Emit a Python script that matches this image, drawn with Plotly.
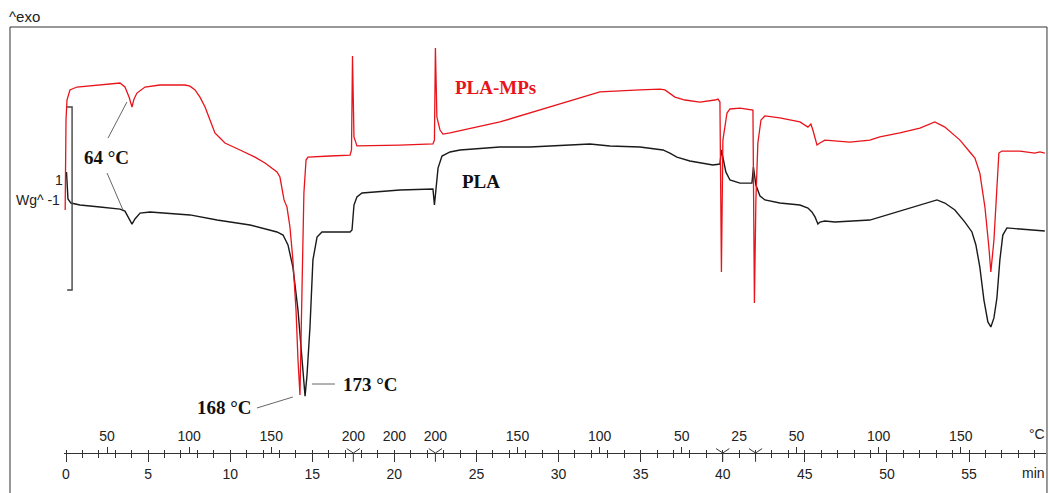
import plotly.graph_objects as go

# ---------------- data ----------------
# PLA (black) : time in min, heat flow in W/g (arbitrary offset)
time_pla = [0.03, 0.06, 0.12, 0.30, 0.85, 2.07, 3.29, 3.59, 3.84, 4.02, 4.20, 4.51, 5.12, 6.76,
            7.55, 9.20, 11.21, 12.85, 13.22, 13.52, 13.82, 14.13, 14.37, 14.52, 14.56, 14.68,
            14.86, 15.04, 15.29, 15.59, 17.30, 17.42, 17.54, 17.72, 18.03, 20.34, 22.35, 22.44,
            22.53, 22.66, 22.90, 23.39, 24.00, 26.43, 28.26, 30.69, 31.91, 33.13, 34.96, 36.36,
            36.78, 37.21, 38.00, 39.40, 39.83, 39.92, 40.01, 40.19, 40.44, 41.05, 41.78, 41.87,
            42.02, 42.27, 42.57, 43.48, 44.70, 45.19, 45.43, 45.62, 45.80, 45.92, 46.22, 46.83,
            48.96, 50.18, 51.40, 52.31, 53.05, 53.53, 54.14, 54.75, 55.18, 55.42, 55.66, 55.91,
            56.15, 56.33, 56.52, 56.70, 56.88, 57.06, 57.31, 58.10, 59.62]
hf_pla = [1.536, 1.437, 1.388, 1.366, 1.355, 1.344, 1.333, 1.322, 1.284, 1.251, 1.279, 1.311,
          1.317, 1.306, 1.301, 1.273, 1.246, 1.208, 1.191, 1.137, 1.016, 0.781, 0.508, 0.328,
          0.311, 0.426, 0.689, 1.055, 1.180, 1.208, 1.208, 1.219, 1.355, 1.399, 1.421, 1.437,
          1.443, 1.355, 1.437, 1.557, 1.623, 1.645, 1.656, 1.672, 1.672, 1.683, 1.689, 1.678,
          1.672, 1.656, 1.639, 1.617, 1.596, 1.574, 1.579, 1.656, 1.612, 1.536, 1.492, 1.475,
          1.475, 1.563, 1.464, 1.404, 1.383, 1.366, 1.355, 1.339, 1.317, 1.290, 1.251, 1.262,
          1.268, 1.262, 1.273, 1.306, 1.339, 1.366, 1.383, 1.366, 1.328, 1.262, 1.208, 1.137,
          1.016, 0.836, 0.716, 0.689, 0.738, 0.847, 1.055, 1.191, 1.230, 1.224, 1.213]

# PLA-MPs (red)
time_mps = [-0.05, -0.03, 0.00, 0.06, 0.24, 0.67, 2.07, 3.29, 3.59, 3.84, 4.02, 4.14, 4.32,
            4.81, 5.72, 7.25, 7.55, 7.86, 8.16, 8.47, 8.77, 9.07, 9.38, 9.68, 10.60, 11.51,
            12.12, 12.55, 12.85, 13.03, 13.15, 13.28, 13.46, 13.64, 13.82, 14.01, 14.13, 14.25,
            14.37, 14.49, 14.62, 14.74, 16.08, 17.30, 17.39, 17.45, 17.54, 17.72, 20.34, 22.35,
            22.44, 22.50, 22.59, 22.78, 22.96, 23.39, 26.43, 29.48, 32.22, 32.52, 34.96, 36.18,
            36.48, 37.09, 37.70, 38.61, 39.52, 39.71, 39.83, 39.92, 40.01, 40.13, 40.26, 40.44,
            41.05, 41.84, 41.93, 42.02, 42.14, 42.33, 42.57, 43.48, 44.70, 45.19, 45.37, 45.49,
            45.62, 45.74, 45.92, 46.22, 47.75, 48.96, 49.57, 50.79, 52.01, 52.92, 53.53, 54.45,
            55.05, 55.36, 55.66, 55.97, 56.21, 56.33, 56.52, 56.70, 56.82, 57.00, 58.10, 59.01,
            59.32, 59.62]
hf_mps = [1.328, 1.601, 1.820, 1.929, 1.984, 2.000, 2.011, 2.022, 2.000, 1.945, 1.891, 1.934,
          1.967, 2.000, 2.011, 2.011, 2.005, 1.984, 1.945, 1.891, 1.820, 1.749, 1.721, 1.694,
          1.656, 1.617, 1.585, 1.557, 1.536, 1.508, 1.437, 1.383, 1.344, 1.235, 1.055, 0.781,
          0.508, 0.317, 0.874, 1.421, 1.601, 1.617, 1.623, 1.628, 1.656, 2.169, 1.727, 1.678,
          1.683, 1.689, 1.710, 2.213, 1.836, 1.765, 1.743, 1.749, 1.809, 1.891, 1.967, 1.973,
          1.984, 1.989, 1.984, 1.945, 1.929, 1.918, 1.929, 1.934, 1.918, 0.989, 1.710, 1.781,
          1.858, 1.880, 1.885, 1.874, 0.820, 1.383, 1.694, 1.820, 1.842, 1.831, 1.809, 1.781,
          1.798, 1.765, 1.727, 1.683, 1.694, 1.710, 1.699, 1.710, 1.727, 1.749, 1.776, 1.809,
          1.781, 1.710, 1.645, 1.612, 1.530, 1.344, 1.126, 0.989, 1.164, 1.492, 1.639, 1.650,
          1.650, 1.639, 1.645, 1.639]

# time axis (min)
time_tick_vals = [0, 5, 10, 15, 20, 25, 30, 35, 40, 45, 50, 55]
time_tick_labels = [str(v) for v in time_tick_vals]

# temperature axis (°C) placed along the time axis
temp_label_times = [2.5, 7.5, 12.5, 17.5, 20.0, 22.5, 27.5, 32.5, 37.5, 41.0, 44.5, 49.5, 54.5]
temp_labels = ["50", "100", "150", "200", "200", "200", "150", "100", "50", "25", "50", "100", "150"]
temp_mark_times = [2.5, 7.5, 12.5, 27.5, 32.5, 37.5, 44.5, 49.5, 54.5]
segment_times = [17.5, 22.5, 40.0, 42.0]
segment_level = [0, 0, 0, 0]

# 1 W/g scale bar
scale_bar_t = [0.07, 0.37, 0.37, 0.07]
scale_bar_hf = [1.891, 1.891, 0.891, 0.891]

# annotation leader lines (time, heat flow)
leaders = [
    (2.56, 1.721, 3.71, 1.918),
    (2.50, 1.530, 3.47, 1.328),
    (14.98, 0.377, 16.38, 0.377),
    (11.63, 0.246, 13.82, 0.306),
]

X_RANGE = [-0.122, 59.69]
Y_RANGE = [0, 2.328]
AX = "#333333"
TICKFONT = dict(family="Liberation Sans, Arial", size=14, color="#222222")
SERIF = "Liberation Serif, Times New Roman"

fig = go.Figure()
fig.add_trace(go.Scatter(x=time_pla, y=hf_pla, mode="lines", name="PLA",
                         line=dict(color="#1a1a1a", width=1.4), hoverinfo="skip"))
fig.add_trace(go.Scatter(x=time_mps, y=hf_mps, mode="lines", name="PLA-MPs",
                         line=dict(color="#e8141b", width=1.3), hoverinfo="skip"))
fig.add_trace(go.Scatter(x=scale_bar_t, y=scale_bar_hf, mode="lines", xaxis="x3",
                         line=dict(color="#444444", width=1.4), hoverinfo="skip"))
fig.add_trace(go.Scatter(x=segment_times, y=segment_level, mode="markers", xaxis="x2",
                         cliponaxis=False, hoverinfo="skip",
                         marker=dict(symbol="y-down", size=11, color=AX,
                                     line=dict(width=1, color=AX))))

for (x0, y0, x1, y1) in leaders:
    fig.add_shape(type="line", xref="x", yref="y", x0=x0, y0=y0, x1=x1, y1=y1,
                  line=dict(color="#555555", width=0.9))

# outer frame
fig.add_shape(type="rect", xref="paper", yref="paper", x0=-0.055, x1=1.001, y0=-0.11, y1=1.0,
              line=dict(color=AX, width=1))

ann = []
def txt(x, y, s, size=19, color="#111111", xref="x", yref="y", xanchor="center",
        family=SERIF):
    ann.append(dict(x=x, y=y, xref=xref, yref=yref, text=s, showarrow=False,
                    xanchor=xanchor, yanchor="middle",
                    font=dict(family=family, size=size, color=color)))

txt(26.13, 2.000, "<b>PLA-MPs</b>", color="#e8141b")
txt(25.27, 1.481, "<b>PLA</b>")
txt(2.44, 1.617, "<b>64 °C</b>")
txt(18.57, 0.372, "<b>173 °C</b>")
txt(9.68, 0.246, "<b>168 °C</b>")
sans = "Liberation Sans, Arial"
txt(-0.005, 0.641, "1", size=14, color="#222222", xref="paper", yref="paper", family=sans)
txt(-0.002, 0.594, "Wg^ -1", size=14, color="#222222", xref="paper", yref="paper",
    xanchor="right", family=sans)
txt(-0.058, 1.025, "^exo", size=15, color="#222222", xref="paper", yref="paper",
    xanchor="left", family=sans)
txt(0.991, 0.045, "°C", size=14, color="#222222", xref="paper", yref="paper", family=sans)
txt(0.987, -0.047, "min", size=14, color="#222222", xref="paper", yref="paper", family=sans)

fig.update_layout(
    width=1049, height=493,
    margin=dict(l=64, r=3, t=27, b=40),
    paper_bgcolor="white", plot_bgcolor="white",
    showlegend=False,
    annotations=ann,
    xaxis=dict(range=X_RANGE, showgrid=False, zeroline=False, automargin=False,
               showline=True, linecolor=AX, linewidth=1,
               tickmode="array", tickvals=time_tick_vals, ticktext=time_tick_labels,
               ticks="outside", ticklen=8, tickcolor=AX, tickwidth=1, tickfont=TICKFONT,
               minor=dict(tickmode="linear", tick0=0, dtick=1, ticks="outside", ticklen=4,
                          tickcolor=AX, tickwidth=1, showgrid=False)),
    xaxis2=dict(range=X_RANGE, overlaying="x", side="top", anchor="free", position=0,
                showgrid=False, zeroline=False, showline=False, automargin=False,
                tickmode="array", tickvals=temp_mark_times, showticklabels=False,
                ticks="outside", ticklen=6, tickcolor=AX, tickwidth=1,
                minor=dict(tickmode="linear", tick0=0, dtick=1, ticks="outside", ticklen=3,
                           tickcolor=AX, tickwidth=1, showgrid=False)),
    xaxis3=dict(range=X_RANGE, overlaying="x", side="top", anchor="free", position=0,
                showgrid=False, zeroline=False, showline=False, automargin=False,
                tickmode="array", tickvals=temp_label_times, ticktext=temp_labels,
                ticks="outside", ticklen=6, tickcolor="rgba(0,0,0,0)", tickfont=TICKFONT),
    yaxis=dict(range=Y_RANGE, visible=False, fixedrange=True),
)

fig.write_html(
    "out.html",
    config={"displayModeBar": False},
    post_script="document.body.style.margin='0';document.body.style.padding='0';"
                "document.documentElement.style.overflow='hidden';",
)
